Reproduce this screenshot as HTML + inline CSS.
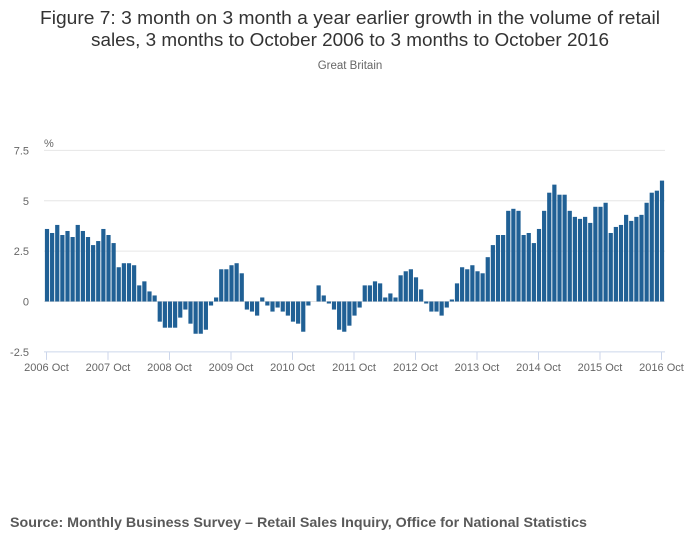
<!DOCTYPE html>
<html><head><meta charset="utf-8"><style>
body{margin:0;background:#fff;font-family:"Liberation Sans",sans-serif;}
svg text{font-family:"Liberation Sans",sans-serif;}
</style></head><body>
<svg width="700" height="549">
<text x="350" y="24" text-anchor="middle" font-size="18" fill="#333" textLength="620" lengthAdjust="spacingAndGlyphs">Figure 7: 3 month on 3 month a year earlier growth in the volume of retail</text>
<text x="350" y="46" text-anchor="middle" font-size="18" fill="#333" textLength="518" lengthAdjust="spacingAndGlyphs">sales, 3 months to October 2006 to 3 months to October 2016</text>
<text x="350" y="69" text-anchor="middle" font-size="11.5" fill="#666">Great Britain</text>
<text x="44" y="147" font-size="11" fill="#666">%</text>
<g id="grid"></g><g id="bars"></g><g id="xaxis"></g>
<text x="10" y="527" font-size="14" font-weight="bold" fill="#595959" textLength="577" lengthAdjust="spacingAndGlyphs">Source: Monthly Business Survey – Retail Sales Inquiry, Office for National Statistics</text>
</svg>
<script>
const values=[3.6,3.4,3.8,3.3,3.5,3.2,3.8,3.5,3.2,2.8,3.0,3.6,3.3,2.9,1.7,1.9,1.9,1.8,0.8,1.0,0.5,0.3,-1.0,-1.3,-1.3,-1.3,-0.8,-0.4,-1.1,-1.6,-1.6,-1.4,-0.2,0.2,1.6,1.6,1.8,1.9,1.4,-0.4,-0.5,-0.7,0.2,-0.2,-0.5,-0.3,-0.5,-0.7,-1.0,-1.1,-1.5,-0.2,0,0.8,0.3,-0.1,-0.4,-1.4,-1.5,-1.2,-0.7,-0.3,0.8,0.8,1.0,0.9,0.2,0.4,0.2,1.3,1.5,1.6,1.2,0.6,-0.1,-0.5,-0.5,-0.7,-0.3,0.1,0.9,1.7,1.6,1.8,1.5,1.4,2.2,2.8,3.3,3.3,4.5,4.6,4.5,3.3,3.4,2.9,3.6,4.5,5.4,5.8,5.3,5.3,4.5,4.2,4.1,4.2,3.9,4.7,4.7,4.9,3.4,3.7,3.8,4.3,4.0,4.2,4.3,4.9,5.4,5.5,6.0];
const yTicks=[7.5,5,2.5,0,-2.5];
const yTickLabels=["7.5","5","2.5","0","-2.5"];
const xTickLabels=["2006 Oct","2007 Oct","2008 Oct","2009 Oct","2010 Oct","2011 Oct","2012 Oct","2013 Oct","2014 Oct","2015 Oct","2016 Oct"];
const NS="http://www.w3.org/2000/svg";
const y0=301.5,pu=20.15,x0=47,step=5.125;
const Y=v=>y0-v*pu, X=i=>x0+i*step;
function mk(t,a,p){const e=document.createElementNS(NS,t);for(const k in a)e.setAttribute(k,a[k]);p.appendChild(e);return e;}
const g=document.getElementById('grid');
yTicks.forEach((v,i)=>{
 if(v!==-2.5){const l=mk('line',{x1:44,x2:665,y1:Y(v),y2:Y(v),stroke:'#e6e6e6','stroke-width':1},g);
 
 }
 const t=mk('text',{x:29,y:Y(v)+4,'text-anchor':'end','font-size':11,fill:'#666'},g);t.textContent=yTickLabels[i];
 
 
});
const b=document.getElementById('bars');
values.forEach((v,i)=>{
 const r=mk('rect',{x:X(i)-2.1,width:4.2,y:Math.min(Y(v),y0),height:Math.abs(v*pu),fill:'#206095'},b);
 
 
});
const xa=document.getElementById('xaxis');
const al=mk('line',{x1:44,x2:665,y1:Y(-2.5),y2:Y(-2.5),stroke:'#ccd6eb','stroke-width':1},xa);


xTickLabels.forEach((s,i)=>{
 const x=X(i*12)-0.5;
 mk('line',{x1:x,x2:x,y1:Y(-2.5),y2:Y(-2.5)+8,stroke:'#ccd6eb'},xa);
 const t=mk('text',{x:x,y:371,'text-anchor':'middle','font-size':11,fill:'#666'},xa);t.textContent=s;
 
 
});
</script>
</body></html>
